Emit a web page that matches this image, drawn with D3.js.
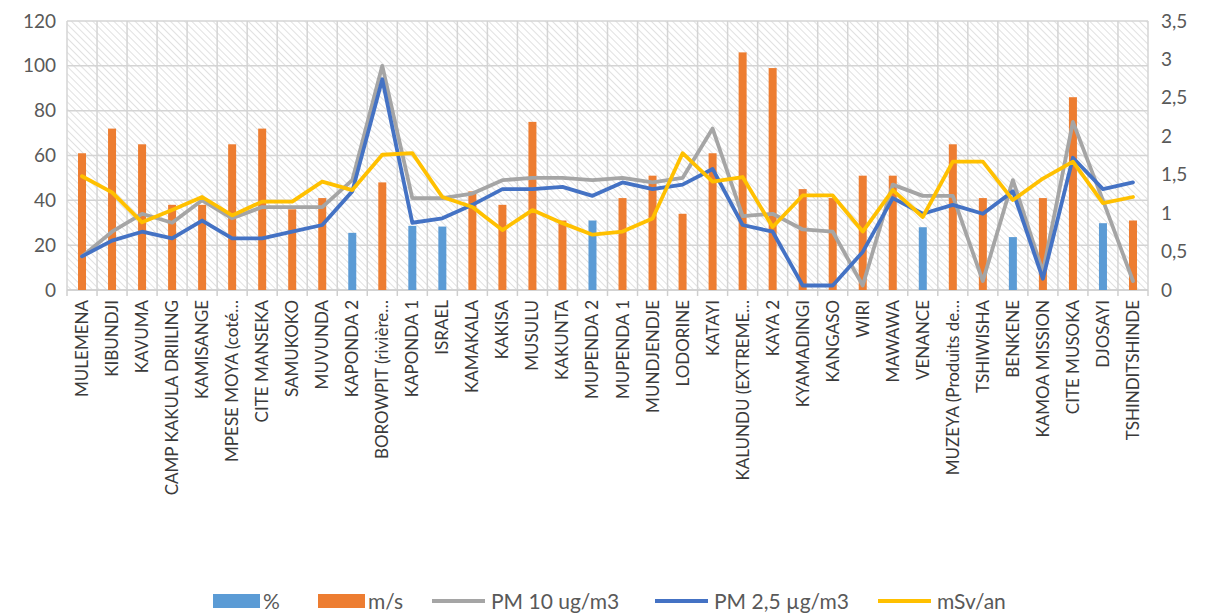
<!DOCTYPE html>
<html>
<head>
<meta charset="utf-8">
<script src="https://cdn.jsdelivr.net/npm/d3@7"></script>
<style>
  html, body { margin: 0; padding: 0; background: #ffffff; }
  svg { display: block; font-family: Lato, "Open Sans", sans-serif; }
</style>
</head>
<body>
<svg id="chart" width="1208" height="615"></svg>
<script>
// Sampling sites along the x axis
const categories = [
  "MULEMENA", "KIBUNDJI", "KAVUMA", "CAMP KAKULA DRIILING", "KAMISANGE",
  "MPESE MOYA (coté…", "CITE MANSEKA", "SAMUKOKO", "MUVUNDA", "KAPONDA 2",
  "BOROWPIT (rivière…", "KAPONDA 1", "ISRAEL", "KAMAKALA", "KAKISA",
  "MUSULU", "KAKUNTA", "MUPENDA 2", "MUPENDA 1", "MUNDJENDJE",
  "LODORINE", "KATAYI", "KALUNDU (EXTREME…", "KAYA 2", "KYAMADINGI",
  "KANGASO", "WIRI", "MAWAWA", "VENANCE", "MUZEYA (Produits de…",
  "TSHIWISHA", "BENKENE", "KAMOA MISSION", "CITE MUSOKA", "DJOSAYI",
  "TSHINDITSHINDE"
];

// Humidity (%) – measured at a few sites only
const pct = [
  null, null, null, null, null, null, null, null, null, 25.5,
  null, 28.6, 28.3, null, null, null, null, 31, null, null,
  null, null, null, null, null, null, null, null, 28, null,
  null, 23.6, null, null, 29.8, null
];

// Wind speed (m/s)
const ms = [
  61, 72, 65, 38, 38, 65, 72, 36, 41, null,
  48, null, null, 44, 38, 75, 31, null, 41, 51,
  34, 61, 106, 99, 45, 41, 51, 51, null, 65,
  41, null, 41, 86, null, 31
];

// PM 10 (ug/m3)
const pm10 = [
  15, 26, 34, 30, 40, 32, 37, 37, 37, 49,
  100, 41, 41, 43, 49, 50, 50, 49, 50, 48,
  50, 72, 33, 34, 27, 26, 2, 47, 42, 42,
  4, 49, 8, 75, 40, 4
];

// PM 2,5 (µg/m3)
const pm25 = [
  15, 22, 26, 23, 31, 23, 23, 26, 29, 44,
  94, 30, 32, 38, 45, 45, 46, 42, 48, 45,
  47, 54, 29, 26, 2, 2, 17, 41, 34, 38,
  34, 44, 5, 59, 45, 48
];

// Dose rate (mSv/an) – right axis
const msv = [
  1.48, 1.27, 0.88, 1.04, 1.21, 0.97, 1.15, 1.15, 1.41, 1.30,
  1.76, 1.78, 1.21, 1.08, 0.78, 1.04, 0.87, 0.72, 0.76, 0.93,
  1.78, 1.41, 1.47, 0.82, 1.23, 1.23, 0.76, 1.30, 0.95, 1.67,
  1.67, 1.17, 1.45, 1.67, 1.13, 1.21
];

const leftTicks = [0, 20, 40, 60, 80, 100, 120];
const rightTicks = [0, 0.5, 1, 1.5, 2, 2.5, 3, 3.5];
const rightTickLabels = ["0", "0,5", "1", "1,5", "2", "2,5", "3", "3,5"];

const legendItems = [
  { label: "%", type: "bar", color: "#5b9bd5" },
  { label: "m/s", type: "bar", color: "#ed7d31" },
  { label: "PM 10 ug/m3", type: "line", color: "#a5a5a5" },
  { label: "PM 2,5 µg/m3", type: "line", color: "#4472c4" },
  { label: "mSv/an", type: "line", color: "#ffc000" }
];

// ---- layout ----
const plot = { left: 67, right: 1148, top: 21, bottom: 290 };
const svg = d3.select("#chart");

const x = d3.scaleBand().domain(categories).range([plot.left, plot.right]).padding(0);
const yL = d3.scaleLinear().domain([0, 120]).range([plot.bottom, plot.top]);
const yR = d3.scaleLinear().domain([0, 3.5]).range([plot.bottom, plot.top]);
const cx = d => x(d) + x.bandwidth() / 2;

// diagonal hatch used as plot background
const defs = svg.append("defs");
const pat = defs.append("pattern")
  .attr("id", "hatch")
  .attr("patternUnits", "userSpaceOnUse")
  .attr("width", 5).attr("height", 5)
  .attr("patternTransform", "rotate(-45)");
pat.append("rect").attr("width", 5).attr("height", 5).attr("fill", "#ffffff");
pat.append("line").attr("x1", 0).attr("y1", 0).attr("x2", 0).attr("y2", 5)
  .attr("stroke", "#dadada").attr("stroke-width", 1.6);

svg.append("rect")
  .attr("x", plot.left).attr("y", plot.top)
  .attr("width", plot.right - plot.left).attr("height", plot.bottom - plot.top)
  .attr("fill", "url(#hatch)");

// horizontal gridlines
svg.append("g").selectAll("line").data(leftTicks).join("line")
  .attr("x1", plot.left).attr("x2", plot.right)
  .attr("y1", d => yL(d)).attr("y2", d => yL(d))
  .attr("stroke", "#d4d4d4").attr("stroke-width", 1.5);

// vertical gridlines at category boundaries
const bounds = categories.map(c => x(c)).concat([plot.right]);
svg.append("g").selectAll("line").data(bounds).join("line")
  .attr("x1", d => d).attr("x2", d => d)
  .attr("y1", plot.top).attr("y2", plot.bottom)
  .attr("stroke", "#d4d4d4").attr("stroke-width", 1.5);

// category axis with tick marks between categories
svg.append("line")
  .attr("x1", plot.left).attr("x2", plot.right)
  .attr("y1", plot.bottom).attr("y2", plot.bottom)
  .attr("stroke", "#cfcfcf").attr("stroke-width", 1.5);
svg.append("g").selectAll("line").data(bounds).join("line")
  .attr("x1", d => d).attr("x2", d => d)
  .attr("y1", plot.bottom).attr("y2", plot.bottom + 6)
  .attr("stroke", "#cfcfcf").attr("stroke-width", 1.5);

// left value axis
const leftAxis = d3.axisLeft(yL).tickValues(leftTicks).tickSize(0).tickPadding(10);
const gl = svg.append("g").attr("transform", `translate(${plot.left - 1},0)`).call(leftAxis);
gl.select(".domain").remove();
gl.selectAll("text").attr("font-size", 19).attr("fill", "#595959")
  .style("font-family", "Lato, sans-serif");

// right value axis
const rightAxis = d3.axisRight(yR).tickValues(rightTicks)
  .tickFormat((d, i) => rightTickLabels[i]).tickSize(0).tickPadding(13);
const gr = svg.append("g").attr("transform", `translate(${plot.right},0)`).call(rightAxis);
gr.select(".domain").remove();
gr.selectAll("text").attr("font-size", 19).attr("fill", "#595959")
  .style("font-family", "Lato, sans-serif");

// category labels, rotated
svg.append("g").selectAll("text").data(categories).join("text")
  .attr("transform", d => `translate(${cx(d) + 6},${plot.bottom + 10}) rotate(-90)`)
  .attr("text-anchor", "end")
  .attr("font-size", 17)
  .attr("fill", "#3a3a3a")
  .text(d => d);

// bars
const barW = 8;
svg.append("g").selectAll("rect").data(categories.map((c, i) => ({ c, v: ms[i] })).filter(d => d.v != null))
  .join("rect")
  .attr("x", d => cx(d.c) - barW / 2)
  .attr("width", barW)
  .attr("y", d => yL(d.v))
  .attr("height", d => yL(0) - yL(d.v))
  .attr("fill", "#ed7d31");

svg.append("g").selectAll("rect").data(categories.map((c, i) => ({ c, v: pct[i] })).filter(d => d.v != null))
  .join("rect")
  .attr("x", d => cx(d.c) - barW / 2)
  .attr("width", barW)
  .attr("y", d => yL(d.v))
  .attr("height", d => yL(0) - yL(d.v))
  .attr("fill", "#5b9bd5");

// lines
function drawLine(values, scale, color) {
  const line = d3.line()
    .x((d, i) => cx(categories[i]))
    .y(d => scale(d));
  svg.append("path")
    .datum(values)
    .attr("d", line)
    .attr("fill", "none")
    .attr("stroke", color)
    .attr("stroke-width", 3.8)
    .attr("stroke-linejoin", "round")
    .attr("stroke-linecap", "round");
}
drawLine(pm10, yL, "#a5a5a5");
drawLine(pm25, yL, "#4472c4");
drawLine(msv, yR, "#ffc000");

// legend
const legendX = [213, 318, 432, 655, 878];
const lg = svg.append("g");
legendItems.forEach((it, i) => {
  const g = lg.append("g").attr("transform", `translate(${legendX[i]},601)`);
  if (it.type === "bar") {
    g.append("rect").attr("x", 0).attr("y", -7).attr("width", 47).attr("height", 14).attr("fill", it.color);
    g.append("text").attr("x", 50).attr("y", 7.5).attr("font-size", 21).attr("fill", "#595959").text(it.label);
  } else {
    g.append("line").attr("x1", 0).attr("x2", 53).attr("y1", 0).attr("y2", 0)
      .attr("stroke", it.color).attr("stroke-width", 3.8);
    g.append("text").attr("x", 59).attr("y", 7.5).attr("font-size", 21).attr("fill", "#595959").text(it.label);
  }
});
</script>
</body>
</html>
